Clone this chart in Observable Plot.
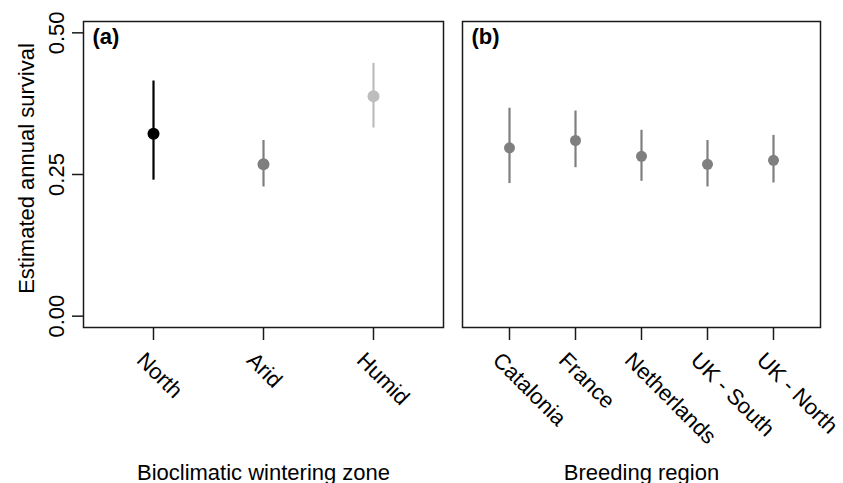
<!DOCTYPE html>
<html>
<head>
<meta charset="utf-8">
<script src="https://cdn.jsdelivr.net/npm/d3@7"></script>
<script src="https://cdn.jsdelivr.net/npm/@observablehq/plot@0.6"></script>
<style>
  html, body { margin: 0; padding: 0; background: white; }
  #wrap { position: relative; width: 843px; height: 483px; overflow: hidden; }
  #wrap > svg, #wrap > figure { position: absolute; top: 0; margin: 0; }
</style>
</head>
<body>
<div id="wrap"></div>
<script>
// ---- data ----
const zones = ["North", "Arid", "Humid"];
const zoneEst = [0.322, 0.268, 0.388];
const zoneLo = [0.240, 0.228, 0.332];
const zoneHi = [0.415, 0.310, 0.446];

const regions = ["Catalonia", "France", "Netherlands", "UK - South", "UK - North"];
const regionEst = [0.297, 0.310, 0.282, 0.268, 0.275];
const regionLo = [0.234, 0.262, 0.238, 0.228, 0.235];
const regionHi = [0.367, 0.362, 0.328, 0.310, 0.319];

const yTicks = [0, 0.25, 0.5];
const panelTitles = ["(a)", "(b)"];
const xTitles = ["Bioclimatic wintering zone", "Breeding region"];
const yTitle = "Estimated annual survival";

// ---- styles ----
const zoneColors = ["#000000", "#7f7f7f", "#bdbdbd"];
const regionColor = "#7f7f7f";
const font = "'Liberation Sans', Arial, Helvetica, sans-serif";

const zoneData = zones.map((z, i) => ({cat: z, est: zoneEst[i], lo: zoneLo[i], hi: zoneHi[i], col: zoneColors[i]}));
const regionData = regions.map((r, i) => ({cat: r, est: regionEst[i], lo: regionLo[i], hi: regionHi[i], col: regionColor}));

const H = 483, mTop = 21, mBottom = 156;
const yDomain = [-0.02, 0.52];

function panel({data, cats, width, marginLeft, marginRight, padding, title, xTitle, withY, r}) {
  const marks = [
    Plot.frame({stroke: "#1a1a1a", strokeWidth: 1.5}),
    Plot.ruleX(data, {x: "cat", y1: "lo", y2: "hi", stroke: "col", strokeWidth: 2.2}),
    Plot.dot(data, {x: "cat", y: "est", fill: "col", stroke: "none", r}),
    Plot.axisX({tickSize: 13, fill: "none", strokeWidth: 1.5, label: null, stroke: "#1a1a1a"}),
    Plot.axisX({tickSize: 0, tickPadding: 29, tickRotate: 45, dx: -13, label: null, fill: "#000"}),
    Plot.text([title], {text: d => d, frameAnchor: "top-left", dx: 9, dy: 22, lineAnchor: "bottom", textAnchor: "start", fontWeight: "bold"}),
    Plot.text([xTitle], {text: d => d, frameAnchor: "bottom", dy: 152, lineAnchor: "bottom", textAnchor: "middle"})
  ];
  if (withY) {
    marks.push(
      Plot.axisY({ticks: yTicks, tickSize: 11, tickPadding: 9, tickRotate: -90, tickFormat: ".2f", strokeWidth: 1.5, label: null, stroke: "#1a1a1a"}),
      Plot.text([yTitle], {text: d => d, frameAnchor: "left", rotate: -90, dx: -50, dy: -6, lineAnchor: "bottom", textAnchor: "middle"})
    );
  }
  return Plot.plot({
    width, height: H,
    marginLeft, marginRight, marginTop: mTop, marginBottom: mBottom,
    style: {fontFamily: font, fontSize: "22px", background: "white", color: "#000", overflow: "visible"},
    x: {type: "point", domain: cats, padding, label: null},
    y: {domain: yDomain, label: null, axis: withY ? undefined : null},
    marks
  });
}

const left = panel({data: zoneData, cats: zones, width: 452, marginLeft: 83, marginRight: 9, padding: 0.63, title: panelTitles[0], xTitle: xTitles[0], withY: true, r: 6});
const right = panel({data: regionData, cats: regions, width: 391, marginLeft: 10, marginRight: 23, padding: 0.69, title: panelTitles[1], xTitle: xTitles[1], withY: false, r: 5.5});

const wrap = document.getElementById("wrap");
left.style.left = "0px";
right.style.left = "452px";
wrap.appendChild(left);
wrap.appendChild(right);
</script>
</body>
</html>
